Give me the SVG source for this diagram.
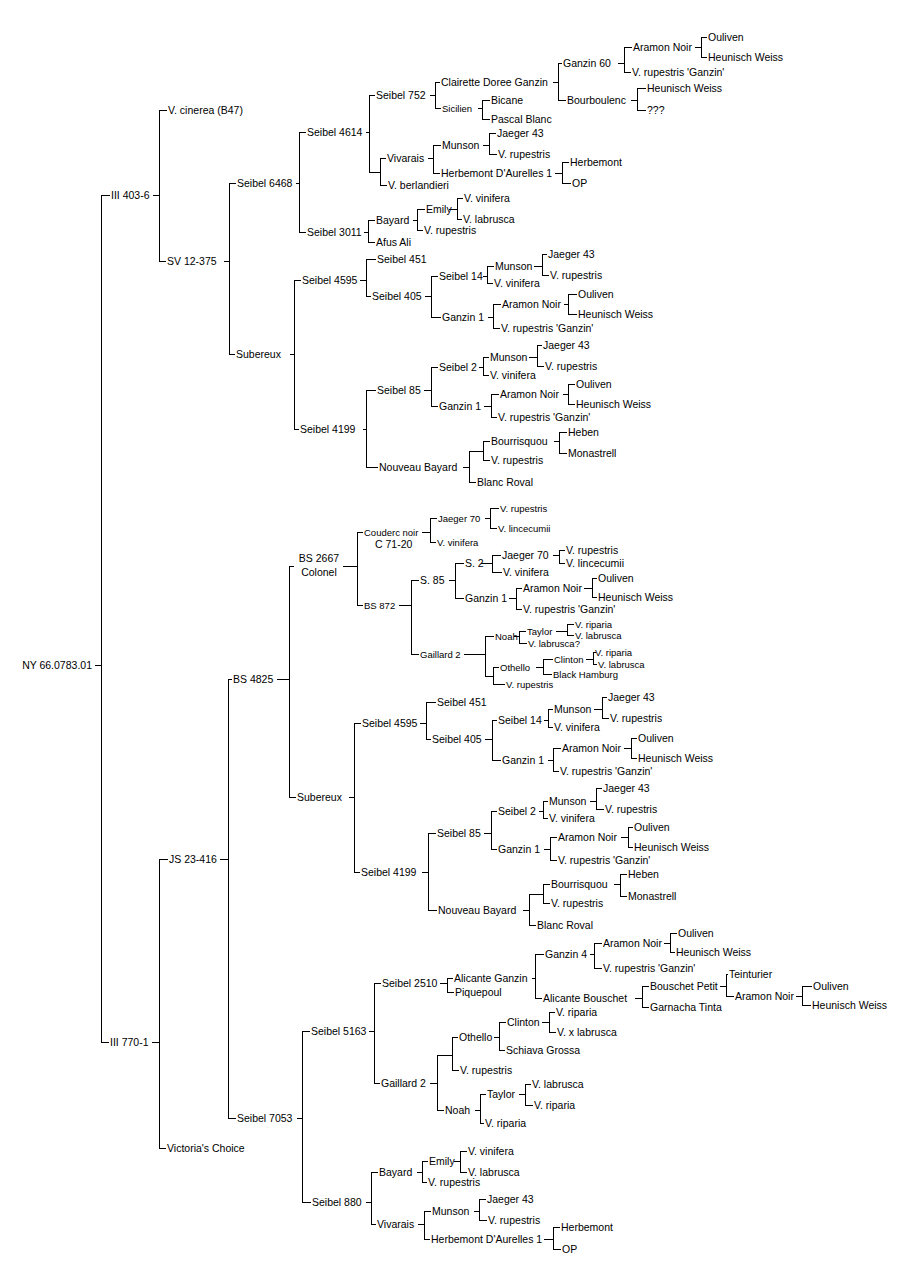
<svg xmlns="http://www.w3.org/2000/svg" width="921" height="1286" viewBox="0 0 921 1286">
<style>
text{font-family:"Liberation Sans",Arial,sans-serif;font-size:10.5px;fill:#000}
text.s{font-size:9.5px}
text.m{text-anchor:middle}
text.e{text-anchor:end}
#connectors path{fill:none;stroke:#000;stroke-width:1;shape-rendering:crispEdges}
</style>
<rect width="921" height="1286" fill="#fff"/>
<g id="connectors" transform="translate(0.5 0.5)">
<path d="M94 665H101M109 195H101V1042H108"/>
<path d="M152 195H159M166 110H159V261H165"/>
<path d="M223 261H229M235 183H229V354H234"/>
<path d="M295 183H299M305 132H299V232H305"/>
<path d="M365 132H369M374 95H369V172H380M385 158H380V185H386"/>
<path d="M429 95H435M439 82H435V108H440"/>
<path d="M552 82H558M561 63H558V100H565"/>
<path d="M617 63H624M631 47H624V72H630"/>
<path d="M694 47H701M706 37H701V57H706"/>
<path d="M630 100H637M645 88H637V110H645"/>
<path d="M477 108H482M489 100H482V119H489"/>
<path d="M427 158H433M440 145H433V173H439"/>
<path d="M482 145H489M495 133H489V154H496"/>
<path d="M554 173H562M568 162H562V183H570"/>
<path d="M363 232H368M374 220H368V242H374"/>
<path d="M412 220H417M424 209H417V230H422"/>
<path d="M448 209H457M462 198H457V219H461"/>
<path d="M289 354H294M300 280H294V429H298"/>
<path d="M359 280H366M375 259H366V296H370"/>
<path d="M424 296H431M437 276H431V317H440"/>
<path d="M482 276H487M493 266H487V283H492"/>
<path d="M533 266H542M546 254H542V275H548"/>
<path d="M487 317H493M500 304H493V328H499"/>
<path d="M563 304H568M576 294H568V314H576"/>
<path d="M362 429H366M375 390H366V467H377"/>
<path d="M423 390H431M437 367H431V406H437"/>
<path d="M478 367H483M488 357H483V375H488"/>
<path d="M528 357H537M541 345H537V366H543"/>
<path d="M483 406H491M498 394H491V417H496"/>
<path d="M562 394H568M574 384H568V404H574"/>
<path d="M462 467H469M483 451H469V482H475M489 441H483V460H489"/>
<path d="M553 441H559M566 432H559V453H566"/>
<path d="M151 1042H159M167 859H159V1148H165"/>
<path d="M219 859H228M231 679H228V1118H235"/>
<path d="M276 679H289M293 566H289V797H295"/>
<path d="M342 566H357M362 532H357V605H362"/>
<path d="M421 532H430M436 518H430V542H435"/>
<path d="M484 518H490M498 508H490V528H496"/>
<path d="M398 605H411M418 580H411V654H418"/>
<path d="M448 580H455M463 563H455V598H463"/>
<path d="M480 563H492M500 555H492V572H501"/>
<path d="M552 555H559M564 550H559V563H564"/>
<path d="M508 598H516M521 588H516V609H521"/>
<path d="M583 588H592M596 578H592V597H596"/>
<path d="M463 654H485M493 636H485V676H493M498 667H493V684H504"/>
<path d="M513 636H519M525 631H519V643H526"/>
<path d="M555 631H567M573 624H567V635H573"/>
<path d="M535 667H543M552 659H543V674H551"/>
<path d="M585 659H593M595 652H593V664H596"/>
<path d="M348 797H354M360 723H354V872H359"/>
<path d="M419 723H426M435 702H426V739H430"/>
<path d="M484 739H492M496 720H492V760H500"/>
<path d="M543 720H548M552 709H548V727H552"/>
<path d="M593 709H602M606 697H602V718H608"/>
<path d="M547 760H553M560 748H553V771H558"/>
<path d="M623 748H631M636 738H631V758H636"/>
<path d="M421 872H428M435 833H428V910H436"/>
<path d="M483 833H491M496 811H491V849H496"/>
<path d="M538 811H543M547 801H543V818H547"/>
<path d="M589 801H596M601 788H596V809H603"/>
<path d="M543 849H550M556 837H550V860H556"/>
<path d="M620 837H628M632 827H628V847H632"/>
<path d="M522 910H529M543 894H529V925H535M549 884H543V903H549"/>
<path d="M613 884H620M626 874H620V896H626"/>
<path d="M296 1118H302M309 1031H302V1202H310"/>
<path d="M368 1031H374M380 983H374V1083H379"/>
<path d="M439 983H447M452 978H447V992H453"/>
<path d="M531 978H535M543 954H535V998H541"/>
<path d="M589 954H594M601 943H594V968H601"/>
<path d="M663 943H670M676 933H670V952H674"/>
<path d="M634 998H642M648 986H642V1007H648"/>
<path d="M719 986H726M727 974H726V996H733"/>
<path d="M795 996H802M811 986H802V1005H810"/>
<path d="M429 1083H437M452 1055H437V1110H443M457 1037H452V1070H458"/>
<path d="M493 1037H499M505 1022H499V1050H504"/>
<path d="M541 1022H549M554 1012H549V1032H555"/>
<path d="M474 1110H480M485 1094H480V1123H483"/>
<path d="M518 1094H525M530 1084H525V1105H532"/>
<path d="M365 1202H371M377 1172H371V1224H375"/>
<path d="M416 1172H422M427 1161H422V1182H426"/>
<path d="M453 1161H460M466 1151H460V1172H466"/>
<path d="M417 1224H424M430 1211H424V1239H429"/>
<path d="M473 1211H479M485 1199H479V1220H486"/>
<path d="M543 1239H553M559 1227H553V1249H560"/>
</g>
<g id="n1"><text class="e" x="92" y="669">NY 66.0783.01</text></g>
<g id="n2"><text x="111" y="199">III 403-6</text></g>
<g id="n3"><text x="168" y="114">V. cinerea (B47)</text></g>
<g id="n4"><text x="167" y="265">SV 12-375</text></g>
<g id="n5"><text x="237" y="187">Seibel 6468</text></g>
<g id="n6"><text x="307" y="136">Seibel 4614</text></g>
<g id="n7"><text x="376" y="99">Seibel 752</text></g>
<g id="n8"><text x="441" y="86">Clairette Doree Ganzin</text></g>
<g id="n9"><text x="563" y="67">Ganzin 60</text></g>
<g id="n10"><text x="633" y="51">Aramon Noir</text></g>
<g id="n11"><text x="708" y="41">Ouliven</text></g>
<g id="n12"><text x="708" y="61">Heunisch Weiss</text></g>
<g id="n13"><text x="632" y="76">V. rupestris 'Ganzin'</text></g>
<g id="n14"><text x="567" y="104">Bourboulenc</text></g>
<g id="n15"><text x="647" y="92">Heunisch Weiss</text></g>
<g id="n16"><text x="647" y="114">???</text></g>
<g id="n17"><text class="s" x="442" y="111.5">Sicilien</text></g>
<g id="n18"><text x="491" y="104">Bicane</text></g>
<g id="n19"><text x="491" y="123">Pascal Blanc</text></g>
<g id="n20"><text x="387" y="162">Vivarais</text></g>
<g id="n21"><text x="442" y="149">Munson</text></g>
<g id="n22"><text x="497" y="137">Jaeger 43</text></g>
<g id="n23"><text x="498" y="158">V. rupestris</text></g>
<g id="n24"><text x="441" y="177">Herbemont D'Aurelles 1</text></g>
<g id="n25"><text x="570" y="166">Herbemont</text></g>
<g id="n26"><text x="572" y="187">OP</text></g>
<g id="n27"><text x="388" y="189">V. berlandieri</text></g>
<g id="n28"><text x="307" y="236">Seibel 3011</text></g>
<g id="n29"><text x="376" y="224">Bayard</text></g>
<g id="n30"><text x="426" y="213">Emily</text></g>
<g id="n31"><text x="464" y="202">V. vinifera</text></g>
<g id="n32"><text x="463" y="223">V. labrusca</text></g>
<g id="n33"><text x="424" y="234">V. rupestris</text></g>
<g id="n34"><text x="376" y="246">Afus Ali</text></g>
<g id="n35"><text x="236" y="358">Subereux</text></g>
<g id="n36"><text x="302" y="284">Seibel 4595</text></g>
<g id="n37"><text x="377" y="263">Seibel 451</text></g>
<g id="n38"><text x="372" y="300">Seibel 405</text></g>
<g id="n39"><text x="439" y="280">Seibel 14</text></g>
<g id="n40"><text x="495" y="270">Munson</text></g>
<g id="n41"><text x="548" y="258">Jaeger 43</text></g>
<g id="n42"><text x="550" y="279">V. rupestris</text></g>
<g id="n43"><text x="494" y="287">V. vinifera</text></g>
<g id="n44"><text x="442" y="321">Ganzin 1</text></g>
<g id="n45"><text x="502" y="308">Aramon Noir</text></g>
<g id="n46"><text x="578" y="298">Ouliven</text></g>
<g id="n47"><text x="578" y="318">Heunisch Weiss</text></g>
<g id="n48"><text x="501" y="332">V. rupestris 'Ganzin'</text></g>
<g id="n49"><text x="300" y="433">Seibel 4199</text></g>
<g id="n50"><text x="377" y="394">Seibel 85</text></g>
<g id="n51"><text x="439" y="371">Seibel 2</text></g>
<g id="n52"><text x="490" y="361">Munson</text></g>
<g id="n53"><text x="543" y="349">Jaeger 43</text></g>
<g id="n54"><text x="545" y="370">V. rupestris</text></g>
<g id="n55"><text x="490" y="379">V. vinifera</text></g>
<g id="n56"><text x="439" y="410">Ganzin 1</text></g>
<g id="n57"><text x="500" y="398">Aramon Noir</text></g>
<g id="n58"><text x="576" y="388">Ouliven</text></g>
<g id="n59"><text x="576" y="408">Heunisch Weiss</text></g>
<g id="n60"><text x="498" y="421">V. rupestris 'Ganzin'</text></g>
<g id="n61"><text x="379" y="471">Nouveau Bayard</text></g>
<g id="n62"><text x="491" y="445">Bourrisquou</text></g>
<g id="n63"><text x="568" y="436">Heben</text></g>
<g id="n64"><text x="568" y="457">Monastrell</text></g>
<g id="n65"><text x="491" y="464">V. rupestris</text></g>
<g id="n66"><text x="477" y="486">Blanc Roval</text></g>
<g id="n67"><text x="110" y="1046">III 770-1</text></g>
<g id="n68"><text x="169" y="863">JS 23-416</text></g>
<g id="n69"><text x="233" y="683">BS 4825</text></g>
<g id="n70"><text class="m" x="319" y="562">BS 2667</text><text class="m" x="319" y="576">Colonel</text></g>
<g id="n71"><text class="s" x="364" y="535.5">Couderc noir</text><text x="375" y="548">C 71-20</text></g>
<g id="n72"><text class="s" x="438" y="521.5">Jaeger 70</text></g>
<g id="n73"><text class="s" x="500" y="511.5">V. rupestris</text></g>
<g id="n74"><text class="s" x="498" y="531.5">V. lincecumii</text></g>
<g id="n75"><text class="s" x="437" y="545.5">V. vinifera</text></g>
<g id="n76"><text class="s" x="364" y="608.5">BS 872</text></g>
<g id="n77"><text x="420" y="584">S. 85</text></g>
<g id="n78"><text x="465" y="567">S. 2</text></g>
<g id="n79"><text x="502" y="559">Jaeger 70</text></g>
<g id="n80"><text x="566" y="554">V. rupestris</text></g>
<g id="n81"><text x="566" y="567">V. lincecumii</text></g>
<g id="n82"><text x="503" y="576">V. vinifera</text></g>
<g id="n83"><text x="465" y="602">Ganzin 1</text></g>
<g id="n84"><text x="523" y="592">Aramon Noir</text></g>
<g id="n85"><text x="598" y="582">Ouliven</text></g>
<g id="n86"><text x="598" y="601">Heunisch Weiss</text></g>
<g id="n87"><text x="523" y="613">V. rupestris 'Ganzin'</text></g>
<g id="n88"><text class="s" x="420" y="657.5">Gaillard 2</text></g>
<g id="n89"><text class="s" x="495" y="639.5">Noah</text></g>
<g id="n90"><text class="s" x="527" y="634.5">Taylor</text></g>
<g id="n91"><text class="s" x="575" y="627.5">V. riparia</text></g>
<g id="n92"><text class="s" x="575" y="638.5">V. labrusca</text></g>
<g id="n93"><text class="s" x="528" y="646.5">V. labrusca?</text></g>
<g id="n94"><text class="s" x="500" y="670.5">Othello</text></g>
<g id="n95"><text class="s" x="554" y="662.5">Clinton</text></g>
<g id="n96"><text class="s" x="595" y="655.5">V. riparia</text></g>
<g id="n97"><text class="s" x="598" y="667.5">V. labrusca</text></g>
<g id="n98"><text class="s" x="553" y="677.5">Black Hamburg</text></g>
<g id="n99"><text class="s" x="506" y="687.5">V. rupestris</text></g>
<g id="n100"><text x="297" y="801">Subereux</text></g>
<g id="n101"><text x="362" y="727">Seibel 4595</text></g>
<g id="n102"><text x="437" y="706">Seibel 451</text></g>
<g id="n103"><text x="432" y="743">Seibel 405</text></g>
<g id="n104"><text x="498" y="724">Seibel 14</text></g>
<g id="n105"><text x="554" y="713">Munson</text></g>
<g id="n106"><text x="608" y="701">Jaeger 43</text></g>
<g id="n107"><text x="610" y="722">V. rupestris</text></g>
<g id="n108"><text x="554" y="731">V. vinifera</text></g>
<g id="n109"><text x="502" y="764">Ganzin 1</text></g>
<g id="n110"><text x="562" y="752">Aramon Noir</text></g>
<g id="n111"><text x="638" y="742">Ouliven</text></g>
<g id="n112"><text x="638" y="762">Heunisch Weiss</text></g>
<g id="n113"><text x="560" y="775">V. rupestris 'Ganzin'</text></g>
<g id="n114"><text x="361" y="876">Seibel 4199</text></g>
<g id="n115"><text x="437" y="837">Seibel 85</text></g>
<g id="n116"><text x="498" y="815">Seibel 2</text></g>
<g id="n117"><text x="549" y="805">Munson</text></g>
<g id="n118"><text x="603" y="792">Jaeger 43</text></g>
<g id="n119"><text x="605" y="813">V. rupestris</text></g>
<g id="n120"><text x="549" y="822">V. vinifera</text></g>
<g id="n121"><text x="498" y="853">Ganzin 1</text></g>
<g id="n122"><text x="558" y="841">Aramon Noir</text></g>
<g id="n123"><text x="634" y="831">Ouliven</text></g>
<g id="n124"><text x="634" y="851">Heunisch Weiss</text></g>
<g id="n125"><text x="558" y="864">V. rupestris 'Ganzin'</text></g>
<g id="n126"><text x="438" y="914">Nouveau Bayard</text></g>
<g id="n127"><text x="551" y="888">Bourrisquou</text></g>
<g id="n128"><text x="628" y="878">Heben</text></g>
<g id="n129"><text x="628" y="900">Monastrell</text></g>
<g id="n130"><text x="551" y="907">V. rupestris</text></g>
<g id="n131"><text x="537" y="929">Blanc Roval</text></g>
<g id="n132"><text x="237" y="1122">Seibel 7053</text></g>
<g id="n133"><text x="311" y="1035">Seibel 5163</text></g>
<g id="n134"><text x="382" y="987">Seibel 2510</text></g>
<g id="n135"><text x="454" y="982">Alicante Ganzin</text></g>
<g id="n136"><text x="545" y="958">Ganzin 4</text></g>
<g id="n137"><text x="603" y="947">Aramon Noir</text></g>
<g id="n138"><text x="678" y="937">Ouliven</text></g>
<g id="n139"><text x="676" y="956">Heunisch Weiss</text></g>
<g id="n140"><text x="603" y="972">V. rupestris 'Ganzin'</text></g>
<g id="n141"><text x="543" y="1002">Alicante Bouschet</text></g>
<g id="n142"><text x="650" y="990">Bouschet Petit</text></g>
<g id="n143"><text x="729" y="978">Teinturier</text></g>
<g id="n144"><text x="735" y="1000">Aramon Noir</text></g>
<g id="n145"><text x="813" y="990">Ouliven</text></g>
<g id="n146"><text x="812" y="1009">Heunisch Weiss</text></g>
<g id="n147"><text x="650" y="1011">Garnacha Tinta</text></g>
<g id="n148"><text x="455" y="996">Piquepoul</text></g>
<g id="n149"><text x="381" y="1087">Gaillard 2</text></g>
<g id="n150"><text x="459" y="1041">Othello</text></g>
<g id="n151"><text x="507" y="1026">Clinton</text></g>
<g id="n152"><text x="556" y="1016">V. riparia</text></g>
<g id="n153"><text x="557" y="1036">V. x labrusca</text></g>
<g id="n154"><text x="506" y="1054">Schiava Grossa</text></g>
<g id="n155"><text x="460" y="1074">V. rupestris</text></g>
<g id="n156"><text x="445" y="1114">Noah</text></g>
<g id="n157"><text x="487" y="1098">Taylor</text></g>
<g id="n158"><text x="532" y="1088">V. labrusca</text></g>
<g id="n159"><text x="534" y="1109">V. riparia</text></g>
<g id="n160"><text x="485" y="1127">V. riparia</text></g>
<g id="n161"><text x="312" y="1206">Seibel 880</text></g>
<g id="n162"><text x="379" y="1176">Bayard</text></g>
<g id="n163"><text x="429" y="1165">Emily</text></g>
<g id="n164"><text x="468" y="1155">V. vinifera</text></g>
<g id="n165"><text x="468" y="1176">V. labrusca</text></g>
<g id="n166"><text x="428" y="1186">V. rupestris</text></g>
<g id="n167"><text x="377" y="1228">Vivarais</text></g>
<g id="n168"><text x="432" y="1215">Munson</text></g>
<g id="n169"><text x="487" y="1203">Jaeger 43</text></g>
<g id="n170"><text x="488" y="1224">V. rupestris</text></g>
<g id="n171"><text x="431" y="1243">Herbemont D'Aurelles 1</text></g>
<g id="n172"><text x="561" y="1231">Herbemont</text></g>
<g id="n173"><text x="562" y="1253">OP</text></g>
<g id="n174"><text x="167" y="1152">Victoria's Choice</text></g>
</svg>
